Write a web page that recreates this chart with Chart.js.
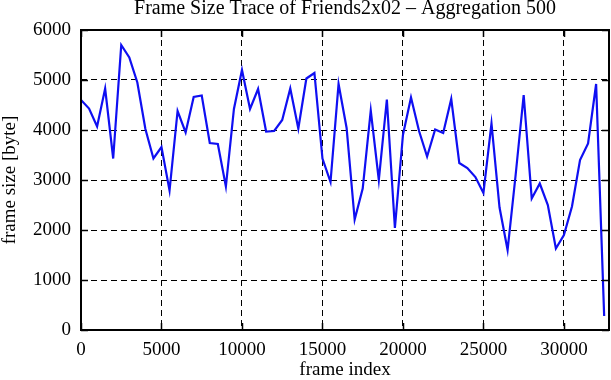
<!DOCTYPE html>
<html>
<head>
<meta charset="utf-8">
<script src="https://cdn.jsdelivr.net/npm/chart.js@4/dist/chart.umd.min.js"></script>
<style>
  html, body { margin: 0; padding: 0; background: #fff; }
  #wrap { width: 611px; height: 380px; }
</style>
</head>
<body>
<div id="wrap"><canvas id="chart" width="611" height="380"></canvas></div>
<script>
const chartTitle = 'Frame Size Trace of Friends2x02 \u2013 Aggregation 500'
const xLabel = 'frame index'
const yLabel = 'frame size [byte]'

// frame index of each aggregated sample
const frameIndex = [
  0, 500, 1000, 1500, 2000, 2500, 3000, 3500, 4000, 4500,
  5000, 5500, 6000, 6500, 7000, 7500, 8000, 8500, 9000, 9500,
  10000, 10500, 11000, 11500, 12000, 12500, 13000, 13500, 14000, 14500,
  15000, 15500, 16000, 16500, 17000, 17500, 18000, 18500, 19000, 19500,
  20000, 20500, 21000, 21500, 22000, 22500, 23000, 23500, 24000, 24500,
  25000, 25500, 26000, 26500, 27000, 27500, 28000, 28500, 29000, 29500,
  30000, 30500, 31000, 31500, 32000, 32500
]

// frame size in bytes
const frameSize = [
  4600, 4430, 4070, 4830, 3430, 5700, 5450, 4950, 4020, 3430,
  3660, 2790, 4380, 3950, 4660, 4690, 3740, 3720, 2870, 4420,
  5200, 4420, 4820, 3970, 3980, 4200, 4830, 4030, 5030, 5140,
  3430, 2960, 4920, 4040, 2210, 2830, 4390, 3000, 4610, 2040,
  3900, 4650, 3980, 3470, 4010, 3940, 4620, 3340, 3240, 3060,
  2740, 4130, 2450, 1600, 3100, 4700, 2630, 2930, 2500, 1630,
  1900, 2470, 3400, 3730, 4920, 280
]

const xTicks = [0, 5000, 10000, 15000, 20000, 25000, 30000]
const yTicks = [0, 1000, 2000, 3000, 4000, 5000, 6000]

const serif = "'Liberation Serif', 'DejaVu Serif', serif"

// gnuplot-like frame with inward ticks, title centred over the plot area
const framePlugin = {
  id: 'frame',
  afterDatasetsDraw(chart) {
    const { ctx, chartArea: a, scales } = chart
    ctx.save()
    ctx.strokeStyle = '#000'
    ctx.lineWidth = 1.5
    ctx.beginPath()
    xTicks.forEach(v => {
      const px = Math.round(scales.x.getPixelForValue(v)) + 0.5
      ctx.moveTo(px, a.bottom); ctx.lineTo(px, a.bottom - 7)
      ctx.moveTo(px, a.top); ctx.lineTo(px, a.top + 7)
    })
    yTicks.forEach(v => {
      const py = Math.round(scales.y.getPixelForValue(v)) + 0.5
      ctx.moveTo(a.left, py); ctx.lineTo(a.left + 7, py)
      ctx.moveTo(a.right, py); ctx.lineTo(a.right - 7, py)
    })
    ctx.stroke()
    ctx.lineWidth = 2
    ctx.strokeRect(a.left, a.top, a.right - a.left, a.bottom - a.top)

    ctx.fillStyle = '#000'
    ctx.font = '20px ' + serif
    ctx.textAlign = 'center'
    ctx.textBaseline = 'alphabetic'
    ctx.fillText(chartTitle, (a.left + a.right) / 2, 14)
    ctx.restore()
  }
}

new Chart(document.getElementById('chart'), {
  type: 'line',
  data: {
    datasets: [{
      data: frameIndex.map((x, i) => ({ x, y: frameSize[i] })),
      borderColor: '#0f0ff2',
      borderWidth: 2.2,
      pointRadius: 0,
      tension: 0,
      fill: false
    }]
  },
  options: {
    responsive: false,
    animation: false,
    layout: { padding: { left: 0, right: 2, top: 30, bottom: 0 } },
    plugins: {
      legend: { display: false },
      tooltip: { enabled: false },
      title: { display: false }
    },
    scales: {
      x: {
        type: 'linear',
        min: 0,
        max: 32800,
        afterBuildTicks: s => { s.ticks = xTicks.map(value => ({ value })) },
        afterFit: s => { s.height = 50 },
        grid: { color: '#000', lineWidth: 1, drawTicks: false },
        border: { display: false, dash: [6, 4] },
        ticks: {
          color: '#000',
          padding: 9,
          maxRotation: 0,
          font: { family: serif, size: 19 },
          callback: v => String(v)
        },
        title: {
          display: true,
          text: xLabel,
          color: '#000',
          font: { family: serif, size: 19, lineHeight: 1 },
          padding: { top: 0, bottom: 0 }
        }
      },
      y: {
        min: 0,
        max: 6000,
        afterBuildTicks: s => { s.ticks = yTicks.map(value => ({ value })) },
        afterFit: s => { s.width = 81 },
        grid: { color: '#000', lineWidth: 1, drawTicks: false },
        border: { display: false, dash: [6, 4] },
        ticks: {
          color: '#000',
          padding: 10,
          font: { family: serif, size: 19 },
          callback: v => String(v)
        },
        title: {
          display: true,
          text: yLabel,
          color: '#000',
          font: { family: serif, size: 19, lineHeight: 1 },
          padding: { top: 1, bottom: 0 }
        }
      }
    }
  },
  plugins: [framePlugin]
})
</script>
</body>
</html>
